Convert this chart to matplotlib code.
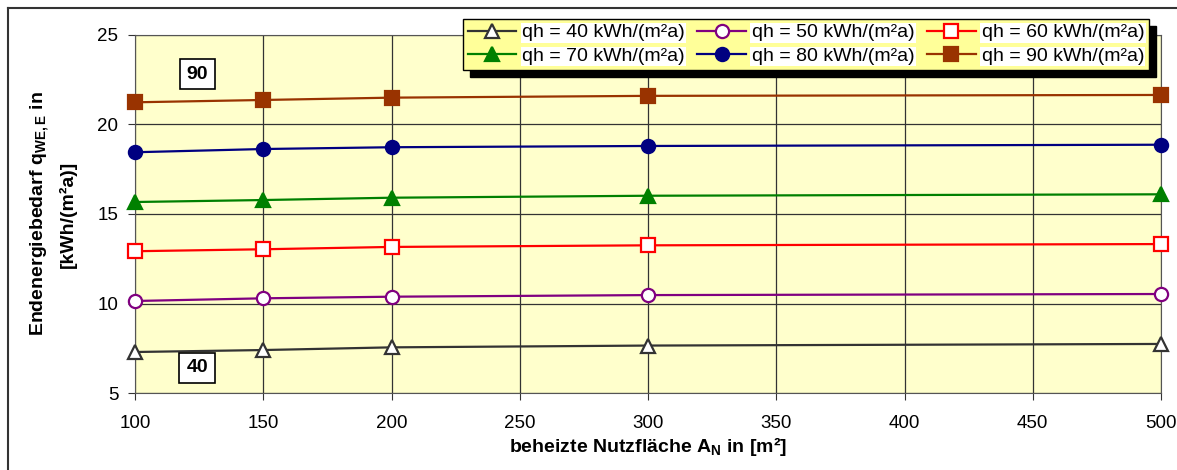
import numpy as np
import matplotlib
matplotlib.use("Agg")
import matplotlib.pyplot as plt
from matplotlib.lines import Line2D

plt.rcParams["font.family"] = ["Liberation Sans", "DejaVu Sans"]
plt.rcParams["mathtext.fontset"] = "custom"
plt.rcParams["mathtext.rm"] = "Liberation Sans"
plt.rcParams["mathtext.bf"] = "Liberation Sans:bold"

# Daten
flaeche = [100, 150, 200, 300, 500]
q40 = [7.29, 7.40, 7.55, 7.65, 7.74]
q50 = [10.14, 10.29, 10.38, 10.47, 10.53]
q60 = [12.92, 13.03, 13.16, 13.25, 13.32]
q70 = [15.67, 15.78, 15.91, 16.02, 16.10]
q80 = [18.45, 18.63, 18.73, 18.80, 18.87]
q90 = [21.24, 21.37, 21.50, 21.60, 21.65]
labels = ["qh = 40 kWh/(m²a)", "qh = 50 kWh/(m²a)", "qh = 60 kWh/(m²a)",
          "qh = 70 kWh/(m²a)", "qh = 80 kWh/(m²a)", "qh = 90 kWh/(m²a)"]

W, H = 1177, 470
fig = plt.figure(figsize=(W / 100, H / 100), dpi=100)
ax = fig.add_axes([135 / W, 1 - 393 / H, 1026 / W, 358 / H])
ax.set_facecolor("#FFFFCC")

# Rahmen (nur links und oben sichtbar)
fig.lines.append(Line2D([8 / W, 8 / W], [0, 1 - 8 / H], transform=fig.transFigure,
                        color="#333333", linewidth=1.5))
fig.lines.append(Line2D([8 / W, 1], [1 - 8 / H, 1 - 8 / H], transform=fig.transFigure,
                        color="#333333", linewidth=1.5))

stil = [
    (q40, "#333333", "^", "white"),
    (q50, "#800080", "o", "white"),
    (q60, "#FF0000", "s", "white"),
    (q70, "#008000", "^", "#008000"),
    (q80, "#000080", "o", "#000080"),
    (q90, "#993300", "s", "#993300"),
]
linien = []
for (werte, farbe, marker, face), lab in zip(stil, labels):
    l, = ax.plot(flaeche, werte, color=farbe, marker=marker, markerfacecolor=face,
                 markeredgecolor=farbe, markeredgewidth=1.6, markersize=9.5,
                 linewidth=1.6, label=lab, clip_on=False, zorder=3)
    linien.append(l)

ax.set_xlim(100, 500)
ax.set_ylim(5, 25)
ax.set_xticks(np.arange(100, 501, 50))
ax.set_yticks([5, 10, 15, 20, 25])
ax.grid(True, color="#333333", linewidth=0.9)
ax.tick_params(axis="both", labelsize=13.5, direction="out", length=5, color="#333333")
ax.tick_params(axis="x", pad=11)
ax.tick_params(axis="y", pad=7)
for s in ax.spines.values():
    s.set_color("#555555")

ax.set_xlabel(r"beheizte Nutzfläche A$_\mathbf{N}$ in [m²]", fontsize=14, fontweight="bold", labelpad=2)
ax.set_ylabel("Endenergiebedarf q$_\\mathbf{WE,E}$ in\n[kWh/(m²a)]", fontsize=14,
              fontweight="bold", labelpad=15, linespacing=1.45)

# Beschriftungskästen
for txt, y in [("90", 22.82), ("40", 6.4)]:
    ax.text(124.2, y, txt, fontsize=14, fontweight="bold", ha="center", va="center",
            bbox=dict(boxstyle="square,pad=0.35", facecolor="white", edgecolor="black", linewidth=1.2),
            zorder=5)

# Legende (zeilenweise wie im Original)
reihenfolge = [0, 3, 1, 4, 2, 5]
leg = ax.legend(handles=[linien[i] for i in reihenfolge], ncol=3, loc="upper right",
                bbox_to_anchor=(1149 / W, 1 - 19 / H), bbox_transform=fig.transFigure,
                fontsize=14, frameon=True, fancybox=False,
                shadow={"color": "black", "alpha": 1, "ox": 5, "oy": -5},
                facecolor="#FFFF99", edgecolor="black", framealpha=1, handlelength=2.5,
                handletextpad=0.3, columnspacing=0.65, borderpad=0.25, labelspacing=0.3,
                borderaxespad=0)
leg.get_frame().set_linewidth(1.0)
for t in leg.get_texts():
    t.set_bbox(dict(facecolor="white", edgecolor="none", pad=1))
leg.set_zorder(10)

fig.savefig("out.png", dpi=100)
